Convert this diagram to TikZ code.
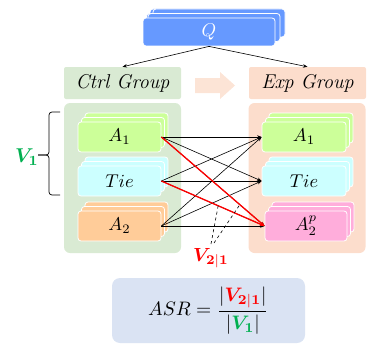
\documentclass[tikz,border=0pt]{standalone}
\usepackage{amsmath,bm}
\usetikzlibrary{shadows,arrows.meta,calc}
\definecolor{qblue}{HTML}{6699FF}
\definecolor{ctrlg}{HTML}{D9EAD3}
\definecolor{expo}{HTML}{FCDDCC}
\definecolor{arrowc}{HTML}{FCE4D6}
\definecolor{aone}{HTML}{CCFF99}
\definecolor{tiec}{HTML}{CCFFFF}
\definecolor{atwo}{HTML}{FFCC99}
\definecolor{atwop}{HTML}{FFADDB}
\definecolor{asrbox}{HTML}{DAE3F3}
\definecolor{vred}{HTML}{FF0000}
\definecolor{vgreen}{HTML}{00B050}
\newcommand{\mysz}[2]{\scalebox{#1}{#2}}
\begin{document}
\begin{tikzpicture}[x=1pt,y=-1pt,
  layer/.style={draw=white, line width=0.8pt, rounded corners=3pt,
    minimum width=83pt, minimum height=30pt, inner sep=0pt,
    double copy shadow={shadow xshift=3.5pt, shadow yshift=4.5pt}},
  grouplabel/.style={rounded corners=2pt, minimum width=117pt, minimum height=32pt,
    inner sep=0pt, font=\fontsize{20}{24}\selectfont\itshape},
  groupbox/.style={rounded corners=6pt, minimum width=117pt, minimum height=150pt, inner sep=0pt},
  conn/.style={line width=0.6pt, -{Stealth[length=4.5pt,width=3.5pt]}},
  redconn/.style={conn, draw=vred, line width=1.3pt},
  dashconn/.style={dashed, line width=0.6pt}
]
\useasboundingbox (0,0) rectangle (369,345);

% group boxes
\node[groupbox, fill=ctrlg] (ctrlbox) at (122.5,178) {};
\node[groupbox, fill=expo] (expbox) at (307,178) {};
\node[grouplabel, fill=ctrlg] (ctrl) at (122.5,83) {Ctrl Group};
\node[grouplabel, fill=expo] (exp) at (307.5,83) {Exp Group};

% block arrow
\fill[arrowc] (195,78) -- (220,78) -- (220,72) -- (235,85.5) -- (220,99) -- (220,93) -- (195,93) -- cycle;

% Q
\node[layer, fill=qblue, minimum width=132pt, minimum height=28pt,
  double copy shadow={shadow xshift=5pt, shadow yshift=4.5pt}] (Q) at (209,32) {\color{white}\mysz{1.85}{$Q$}};
\draw[conn] (Q.south) -- (ctrl.north);
\draw[conn] (Q.south) -- (exp.north);

% left nodes
\node[layer, fill=aone] (L1) at (119.5,137) {\mysz{1.85}{$A_1$}};
\node[layer, fill=tiec] (L2) at (119.5,181) {\mysz{1.85}{$Tie$}};
\node[layer, fill=atwo] (L3) at (119.5,226) {\mysz{1.85}{$A_2$}};
% right nodes
\node[layer, fill=aone, minimum width=84pt] (R1) at (304,137) {\mysz{1.85}{$A_1$}};
\node[layer, fill=tiec, minimum width=84pt] (R2) at (304,181) {\mysz{1.85}{$Tie$}};
\node[layer, fill=atwop, minimum width=82pt] (R3) at (306,226) {\mysz{1.85}{$A_2^p$}};

% connectors
\foreach \i in {1,2,3}{
  \foreach \j in {1,2,3}{
    \draw[conn] (L\i.east) -- (R\j.west);
  }
}
\draw[redconn] (L1.east) -- (R3.west);
\draw[redconn] (L2.east) -- (R3.west);

% V21 label and dashed lines
\node[text=vred, inner sep=1pt] (V21) at (211,258) {\mysz{1.9}{$\bm{V}_{\mathbf{2|1}}$}};
\coordinate (d1) at ($(L2.east)!0.55!(R3.west)$);
\coordinate (d2) at ($(L1.east)!0.76!(R3.west)$);
\coordinate (s1) at (211,244);
\coordinate (s2) at (214,243);
\draw[dashconn] (s1) -- (d1);
\draw[dashconn] (s2) -- (d2);

% V1 brace
\node[text=vgreen, inner sep=1pt] (V1) at (27,157) {\mysz{2.0}{$\bm{V}_{\mathbf{1}}$}};
\coordinate (bt) at (60,112);
\coordinate (bb) at (60,195);
\coordinate (btip) at (38,155);
\draw[line width=0.7pt, rounded corners=3pt] (bt) -- (49,112) -- (49,155) -- (btip);
\draw[line width=0.7pt, rounded corners=3pt] (bb) -- (49,195) -- (49,155) -- (btip);

% ASR box
\node[fill=asrbox, rounded corners=8pt, minimum width=193pt, minimum height=65pt,
  inner sep=0pt] (asr) at (208.5,310.5)
  {\mysz{1.95}{$ASR=\dfrac{|\textcolor{vred}{\bm{V}_{\mathbf{2|1}}}|}{|\textcolor{vgreen}{\bm{V}_{\mathbf{1}}}|}$}};
\end{tikzpicture}
\end{document}
